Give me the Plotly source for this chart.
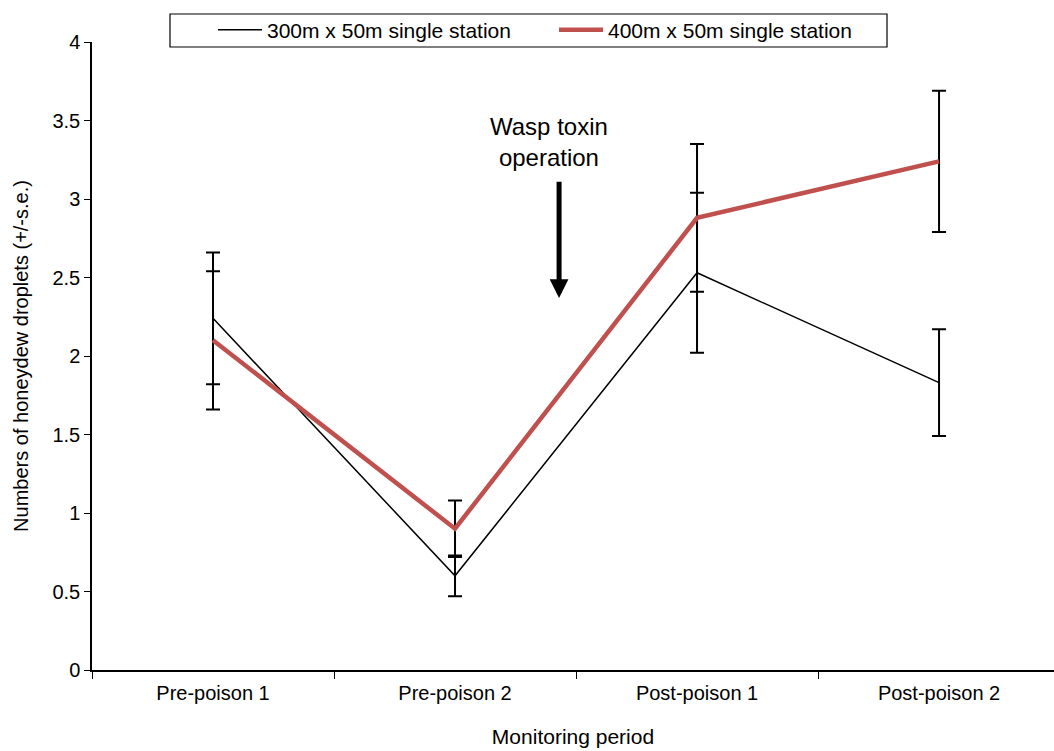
import plotly.graph_objects as go

categories = ["Pre-poison 1", "Pre-poison 2", "Post-poison 1", "Post-poison 2"]
s300 = [2.24, 0.60, 2.53, 1.83]
se300 = [0.42, 0.13, 0.51, 0.34]
s400 = [2.10, 0.90, 2.88, 3.24]
se400 = [0.44, 0.18, 0.47, 0.45]
name300 = "300m x 50m single station"
name400 = "400m x 50m single station"

FONT = "Liberation Sans, Arial, sans-serif"
RED = "#C0504D"

fig = go.Figure()
fig.add_trace(go.Scatter(
    x=categories, y=s300, mode="lines", name=name300,
    line=dict(color="black", width=1.5),
    error_y=dict(type="data", array=se300, visible=True, color="black", thickness=2, width=7),
))
fig.add_trace(go.Scatter(
    x=categories, y=s400, mode="lines", name=name400,
    line=dict(color=RED, width=4.5),
    error_y=dict(type="data", array=se400, visible=True, color="black", thickness=2, width=7),
))

L, T, B = 92, 42, 81
W, H = 1054, 751
pw = W - L
ph = H - T - B

def px_to_paper_x(px):
    return (px - L) / pw

def px_to_paper_y(py):
    return (H - B - py) / ph

# legend frame
fig.add_shape(type="rect", xref="paper", yref="paper",
              x0=px_to_paper_x(170), x1=px_to_paper_x(887),
              y0=px_to_paper_y(47), y1=px_to_paper_y(14),
              line=dict(color="black", width=1.2), fillcolor="white", layer="below")

fig.add_annotation(x=1.39, y=3.36, xref="x", yref="y",
                   text="Wasp toxin<br>operation", showarrow=False,
                   font=dict(family=FONT, size=24, color="black"))
fig.add_annotation(x=1.43, y=2.37, xref="x", yref="y",
                   ax=1.43, ay=3.12, axref="x", ayref="y",
                   text="", showarrow=True, arrowhead=2, arrowsize=0.75,
                   arrowwidth=5, arrowcolor="black")

fig.update_layout(
    width=W, height=H,
    margin=dict(l=L, r=0, t=T, b=B),
    paper_bgcolor="white", plot_bgcolor="white",
    font=dict(family=FONT, size=20, color="black"),
    showlegend=True,
    legend=dict(orientation="h", x=px_to_paper_x(213), xanchor="left",
                y=px_to_paper_y(30), yanchor="middle",
                bgcolor="rgba(0,0,0,0)", borderwidth=0,
                font=dict(family=FONT, size=21, color="black"),
                itemwidth=44, entrywidth=282, entrywidthmode="pixels"),
    xaxis=dict(type="category", range=[-0.5, 3.475], tickson="boundaries",
               ticks="outside", ticklen=7, tickcolor="black", tickwidth=1,
               ticklabelstandoff=4,
               showline=True, linecolor="black", linewidth=1.5,
               showgrid=False, zeroline=False,
               tickfont=dict(family=FONT, size=20),
               title=dict(text="Monitoring period", font=dict(family=FONT, size=21), standoff=27)),
    yaxis=dict(range=[0, 4], tickvals=[0, 0.5, 1, 1.5, 2, 2.5, 3, 3.5, 4],
               ticktext=["0", "0.5", "1", "1.5", "2", "2.5", "3", "3.5", "4"],
               ticks="outside", ticklen=6, tickcolor="black", tickwidth=1,
               showline=True, linecolor="black", linewidth=1.5,
               showgrid=False, zeroline=False,
               tickfont=dict(family=FONT, size=20),
               title=dict(text="Numbers of honeydew droplets (+/-s.e.)",
                          font=dict(family=FONT, size=20), standoff=18)),
)

fig.write_html("out.html")
